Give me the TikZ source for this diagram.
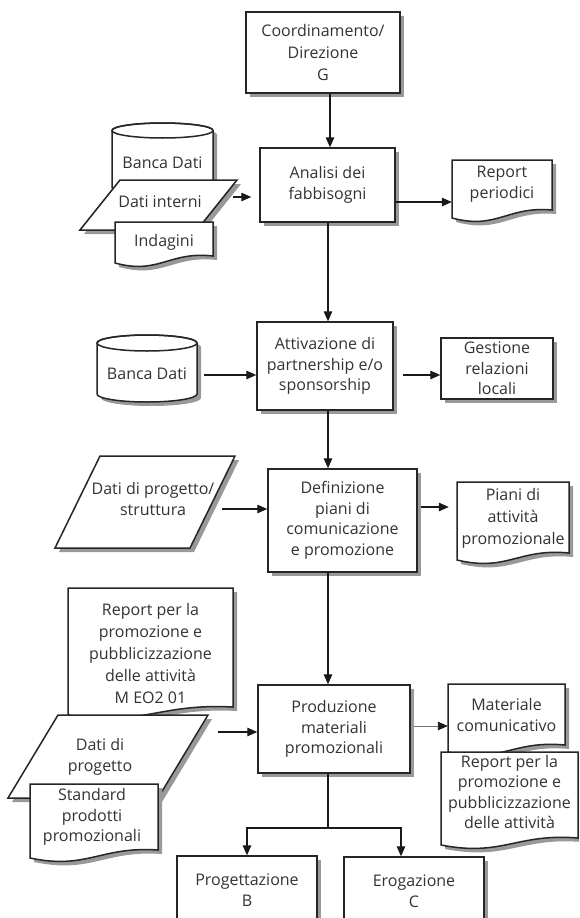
\documentclass[tikz,border=0pt]{standalone}
\usepackage{fontspec}
\setmainfont{Open Sans}
\usetikzlibrary{arrows.meta,shadows,calc}
\newcommand\lblfont{\fontsize{16}{20.5}\selectfont}
\newcommand\lblwide{\fontsize{16}{22}\selectfont}
% cylinder: L T R B ry
\newcommand\cylshape[5]{%
  \path[shp] (#1,{#2+#5}) -- (#1,{#4-#5})
    .. controls (#1,{#4-#5+0.5523*#5}) and ({(#1+#3)/2-0.5523*(#3-#1)/2},#4) .. ({(#1+#3)/2},#4)
    .. controls ({(#1+#3)/2+0.5523*(#3-#1)/2},#4) and (#3,{#4-#5+0.5523*#5}) .. (#3,{#4-#5})
    -- (#3,{#2+#5})
    .. controls (#3,{#2+#5-0.5523*#5}) and ({(#1+#3)/2+0.5523*(#3-#1)/2},#2) .. ({(#1+#3)/2},#2)
    .. controls ({(#1+#3)/2-0.5523*(#3-#1)/2},#2) and (#1,{#2+#5-0.5523*#5}) .. cycle;
  \draw[shpline] ({(#1+#3)/2},{#2+#5}) ellipse [x radius={(#3-#1)/2}, y radius=#5];
}
% document: L T R Bleft Bright
\newcommand\docshape[5]{%
  \path[shp] (#1,#2) -- (#3,#2) -- (#3,#5)
    .. controls ({#1+0.55*(#3-#1)},{#4-12}) and ({#1+0.45*(#3-#1)},{#4+12}) .. (#1,#4) -- cycle;
}
% parallelogram: TLx Ty TRx By dx
\newcommand\parashape[5]{%
  \path[shp] (#1,#2) -- (#3,#2) -- ({#3-#5},#4) -- ({#1-#5},#4) -- cycle;
}
\tikzset{
  shpline/.style={draw=black!85, line width=1.5pt},
  shp/.style={shpline, fill=white,
    drop shadow={shadow xshift=4pt, shadow yshift=-4pt, opacity=1, fill=black!40}},
  procbox/.style={shp, rectangle, inner sep=0pt, align=center, font=\lblfont, text=black!80},
  txt/.style={inner sep=0pt, align=center, font=\lblfont, text=black!80},
  arr/.style={line width=1.3pt, draw=black!90, -{Triangle[length=10pt,width=8.5pt]}},
  conn/.style={line width=1.3pt, draw=black!90},
  thinarr/.style={line width=0.9pt, draw=black!55, -{Triangle[length=10pt,width=8.5pt,color=black!90]}},
}
\begin{document}
\begin{tikzpicture}[x=1pt,y=-1pt]
\useasboundingbox (0,0) rectangle (579,918);
\fill[white] (0,0) rectangle (579,918);
\clip (0,0) rectangle (579,918);

% --- top
\node[procbox, minimum width=154pt, minimum height=81pt, font=\lblwide] (co) at (323,52.5) {Coordinamento/\\Direzione\\G};
\node[procbox, minimum width=135pt, minimum height=74pt] (an) at (327.5,185) {Analisi dei\\fabbisogni};
\draw[arr] ([xshift=7pt]co.south) -- ([xshift=2.5pt]an.north);

\cylshape{112}{123}{213}{195}{7.5}
\node[txt, minimum width=101pt] (bd1) at (162.5,163) {Banca Dati};
\parashape{120}{180}{237}{230}{40}
\node[txt] (di) at (160,202) {Dati interni};
\docshape{115}{222}{213}{263}{256}
\node[txt, minimum width=98pt] (ind) at (164,242) {Indagini};

\docshape{452}{160}{552}{218}{210}
\node[txt, minimum width=100pt] (rp) at (502,184) {Report\\periodici};

\coordinate (dio) at (233,197);
\draw[arr, shorten >=8pt] (dio) -- (dio -| an.west);
\coordinate (ano) at ([yshift=-17pt]an.east);
\draw[arr] (ano) -- (ano -| rp.west);

% --- attivazione
\node[procbox, minimum width=136pt, minimum height=88pt] (at) at (325,366) {Attivazione di\\partnership e/o\\sponsorship};
\draw[arr] ([xshift=0.5pt]an.south) -- ([xshift=3pt]at.north);
\cylshape{97}{335}{197}{402}{8}
\node[txt, minimum width=100pt] (bd2) at (147,374) {Banca Dati};
\node[procbox, minimum width=112pt, minimum height=61pt] (ge) at (497,368.5) {Gestione\\relazioni\\locali};
\coordinate (bdo) at (204,375);
\draw[arr] (bdo) -- (bdo -| at.west);
\coordinate (ato) at ([yshift=-9pt]at.east);
\draw[arr, shorten <=9pt] (ato) -- (ato -| ge.west);

% --- definizione
\node[procbox, minimum width=149pt, minimum height=103pt] (de) at (342.5,520.5) {Definizione\\piani di\\comunicazione\\e promozione};
\draw[arr] ([xshift=3pt]at.south) -- ([xshift=-14.5pt]de.north);
\parashape{100}{456}{235}{548}{45}
\node[txt] (dp1) at (153,499) {Dati di progetto/\\struttura};
\docshape{457}{482}{569}{560}{553}
\node[txt, minimum width=112pt, font=\lblwide] (pi) at (513,518) {Piani di\\attività\\promozionale};
\coordinate (dpo) at (222,509);
\draw[arr] (dpo) -- (dpo -| de.west);
\coordinate (deo) at ([yshift=13.5pt]de.east);
\draw[arr, shorten <=3pt, shorten >=8pt] (deo) -- (deo -| pi.west);

% --- produzione
\docshape{68}{588}{233}{715}{707}
\node[txt, minimum width=165pt, font=\lblwide] (rm) at (150.5,653) {Report per la\\promozione e\\pubblicizzazione\\delle attività\\M EO2 01};
\parashape{58}{715}{208}{798}{50}
\node[txt] (dpr) at (100,757) {Dati di\\progetto};
\docshape{30}{784}{158}{858}{850}
\node[txt, minimum width=128pt] (sp) at (92,817) {Standard\\prodotti\\promozionali};

\node[procbox, minimum width=152pt, minimum height=88pt] (pr) at (334,729) {Produzione\\materiali\\promozionali};
\draw[arr] ([xshift=-14.5pt]de.south) -- ([xshift=-6pt]pr.north);
\coordinate (dpro) at (218,732);
\draw[arr] (dpro) -- (dpro -| pr.west);

\docshape{448}{684}{565}{752}{745}
\node[txt, minimum width=117pt] (ma) at (506.5,715) {Materiale\\comunicativo};
\docshape{441}{752}{578}{845}{838}
\node[txt, minimum width=137pt] (rr) at (509.5,792) {Report per la\\promozione e\\pubblicizzazione\\delle attività};
\coordinate (pro) at ([yshift=3pt]pr.east);
\draw[thinarr, shorten <=3pt] (pro) -- (pro -| ma.west);

% --- bottom
\node[procbox, minimum width=140pt, minimum height=68pt] (pg) at (247,890) {Progettazione\\B};
\node[procbox, minimum width=140pt, minimum height=68pt] (er) at (414,891) {Erogazione\\C};
\coordinate (split) at (328,828);
\draw[conn] ([xshift=-6pt]pr.south) -- (split);
\draw[arr] (split) -| (pg.north);
\draw[arr] (split) -| ([xshift=-13pt]er.north);
\end{tikzpicture}
\end{document}
